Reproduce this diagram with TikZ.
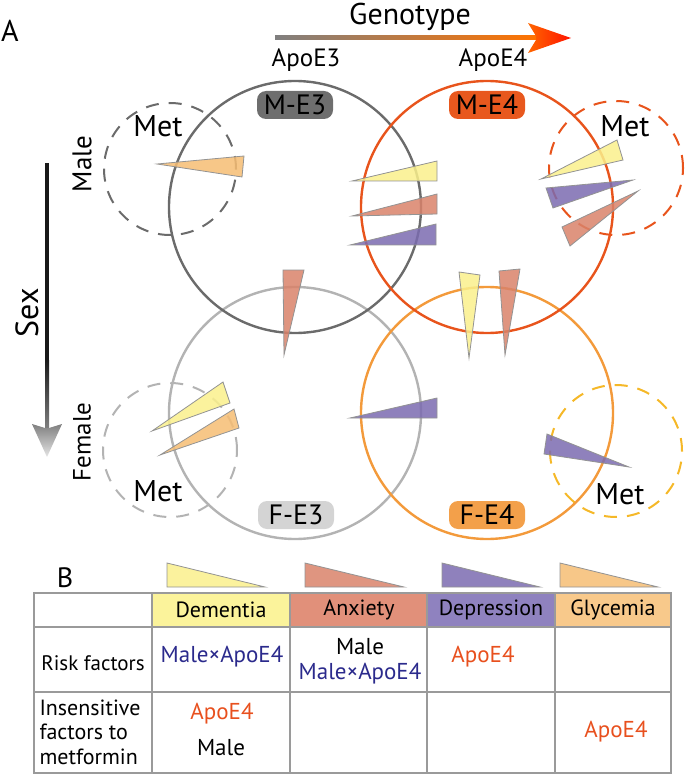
\documentclass[tikz,border=0pt]{standalone}
\usepackage{fontspec}
\setmainfont{PT Sans}
\usetikzlibrary{positioning}

\definecolor{cME3}{HTML}{6B6B6B}
\definecolor{cME4}{HTML}{E8541C}
\definecolor{cFE3}{HTML}{B3B3B3}
\definecolor{cFE4}{HTML}{F39A3B}
\definecolor{cMetF4}{HTML}{F5B828}
\definecolor{boxME3}{HTML}{6E6E6E}
\definecolor{boxME4}{HTML}{E8581E}
\definecolor{boxFE3}{HTML}{D4D4D4}
\definecolor{boxFE4}{HTML}{F3A04A}
\definecolor{wYel}{HTML}{FAF08C}
\definecolor{wSal}{HTML}{D9826A}
\definecolor{wPur}{HTML}{7B6BB0}
\definecolor{wOra}{HTML}{F6BD73}
\definecolor{hYel}{HTML}{FBF39B}
\definecolor{hSal}{HTML}{E1907A}
\definecolor{hPur}{HTML}{8F82BF}
\definecolor{hOra}{HTML}{F8C98B}
\definecolor{txtBlue}{HTML}{2B2A8C}
\definecolor{txtRed}{HTML}{E8501E}
\definecolor{grid}{HTML}{9A9A9A}

\begin{document}
\begin{tikzpicture}[x=1pt,y=-1pt,
    ring/.style={line width=2.4pt},
    metring/.style={line width=2pt, dash pattern=on 13pt off 10pt},
    wedge/.style={draw=gray!85, line width=0.8pt, fill opacity=0.85},
    tag/.style={rounded corners=9pt, minimum width=76pt, minimum height=28pt, inner sep=0pt, font=\fontsize{28}{30}\selectfont},
    big/.style={inner sep=0pt, font=\fontsize{30}{32}\selectfont},
    mid/.style={inner sep=0pt, font=\fontsize{25}{28}\selectfont},
    tab/.style={inner sep=0pt, font=\fontsize{22}{25}\selectfont},
    cell/.style={inner sep=0pt, font=\fontsize{23}{26}\selectfont}]
  \useasboundingbox (0,0) rectangle (685,775);

  % panel A
  \node[big] (panelA) at (10,31) {A};
  \shade[left color=gray, right color=orange!90!red] (275,36) rectangle (536,40);
  \shade[left color=orange!80!red, right color=red!85!orange]
     (536,36) -- (528,23) -- (571,38) -- (528,53) -- (536,40) -- cycle;
  \node[big] (genotype) at (410,17) {Genotype};
  \node[mid] (apoe3) at (306,60) {ApoE3};
  \node[mid] (apoe4) at (493,60) {ApoE4};

  \fill[black!90] (45,163) rectangle (49,360);
  \shade[top color=black!90, bottom color=black!50] (45,360) rectangle (49,429);
  \shade[top color=black!50, bottom color=black!10]
     (45,428) -- (32,424) -- (47,457) -- (62,424) -- (49,428) -- cycle;
  \node[big, font=\fontsize{32}{34}\selectfont, rotate=90] (sex) at (27,313) {Sex};
  \node[big, font=\fontsize{27}{30}\selectfont, rotate=90] (male) at (82,164) {Male};
  \node[big, font=\fontsize{25}{28}\selectfont, rotate=90] (female) at (82,442) {Female};

  \coordinate (ME3) at (295,207);
  \coordinate (ME4) at (487,207);
  \coordinate (FE3) at (295,413);
  \coordinate (FE4) at (487,413);
  \coordinate (metME3) at (170,169);
  \coordinate (metME4) at (616,168);
  \coordinate (metFE3) at (170,450);
  \coordinate (metFE4) at (616,451);

  \draw[ring, cFE3] (FE3) circle[radius=126pt];
  \draw[ring, cFE4] (FE4) circle[radius=126pt];
  \draw[ring, cME3] (ME3) circle[radius=126pt];
  \draw[ring, cME4] (ME4) circle[radius=126pt];

  \draw[metring, cME3] (metME3) circle[radius=66pt];
  \draw[metring, cME4] (metME4) circle[radius=67pt];
  \draw[metring, cFE3] (metFE3) circle[radius=67pt];
  \draw[metring, cMetF4] (metFE4) circle[radius=66pt];

  \node[big] (met1) at (158,126) {Met};
  \node[big] (met2) at (625,126) {Met};
  \node[big] (met3) at (158,491) {Met};
  \node[big] (met4) at (620,494) {Met};

  \node[tag, fill=boxME3] (tagME3) at (295,105) {M-E3};
  \node[tag, fill=boxME4] (tagME4) at (487,105) {M-E4};
  \node[tag, fill=boxFE3] (tagFE3) at (296,515) {F-E3};
  \node[tag, fill=boxFE4] (tagFE4) at (487,515) {F-E4};

  % wedges
  \filldraw[wedge, fill=wOra] (157,164) -- (244,156) -- (242,177) -- cycle;
  \filldraw[wedge, fill=wYel] (352,181) -- (437,161) -- (437,181) -- cycle;
  \filldraw[wedge, fill=wSal] (352,216) -- (437,194) -- (437,214) -- cycle;
  \filldraw[wedge, fill=wPur] (350,245) -- (436,224) -- (436,245) -- cycle;
  \filldraw[wedge, fill=wSal] (284,355) -- (283,270) -- (304,270) -- cycle;

  \filldraw[wedge, fill=wYel] (541,179) -- (617,140) -- (623,160) -- cycle;
  \filldraw[wedge, fill=wPur] (633,180) -- (546,188) -- (553,208) -- cycle;
  \filldraw[wedge, fill=wSal] (638,191) -- (562,227) -- (570,246) -- cycle;
  \filldraw[wedge, fill=wYel] (469,358) -- (459,272) -- (480,275) -- cycle;
  \filldraw[wedge, fill=wSal] (505,355) -- (499,271) -- (520,269) -- cycle;

  \filldraw[wedge, fill=wYel] (152,431) -- (223,382) -- (230,403) -- cycle;
  \filldraw[wedge, fill=wOra] (160,455) -- (234,409) -- (239,428) -- cycle;
  \filldraw[wedge, fill=wPur] (350,418) -- (437,398) -- (437,418) -- cycle;
  \filldraw[wedge, fill=wPur] (629,467) -- (547,434) -- (544,454) -- cycle;

  % panel B
  \node[big, font=\fontsize{28}{30}\selectfont] (panelB) at (65,578) {B};
  \filldraw[wedge, fill=wYel] (167,563) -- (167,587) -- (265,587) -- cycle;
  \filldraw[wedge, fill=wSal] (305,563) -- (305,587) -- (404,587) -- cycle;
  \filldraw[wedge, fill=wPur] (442,563) -- (442,587) -- (540,587) -- cycle;
  \filldraw[wedge, fill=wOra] (560,563) -- (560,587) -- (658,587) -- cycle;

  \fill[hYel] (152,593) rectangle (290,627);
  \fill[hSal] (290,593) rectangle (427,627);
  \fill[hPur] (427,593) rectangle (555,627);
  \fill[hOra] (555,593) rectangle (671,627);
  \draw[grid, line width=1.5pt] (34,593) rectangle (671,773);
  \foreach \xx in {152,290,427,555} \draw[grid, line width=1.5pt] (\xx,593) -- (\xx,773);
  \foreach \yy in {627,692} \draw[grid, line width=1.5pt] (34,\yy) -- (671,\yy);

  \node[tab] (hDem) at (221,610) {Dementia};
  \node[tab] (hAnx) at (359,610) {Anxiety};
  \node[tab] (hDep) at (491,610) {Depression};
  \node[tab] (hGly) at (613,610) {Glycemia};

  \node[tab, font=\fontsize{21}{24}\selectfont] (risk) at (93,663) {Risk factors};
  \node[cell, txtBlue] (riskDem) at (222,657) {Male×ApoE4};
  \node[cell] (riskAnx1) at (360,647) {Male};
  \node[cell, txtBlue] (riskAnx2) at (360,674) {Male×ApoE4};
  \node[cell, txtRed] (riskDep) at (483,657) {ApoE4};

  \node[tab, align=left, font=\fontsize{22}{24.5}\selectfont] (insens) at (90,732) {Insensitive\\factors to\\metformin};
  \node[cell, txtRed] (insDem1) at (222,714) {ApoE4};
  \node[cell] (insDem2) at (221,748) {Male};
  \node[cell, txtRed] (insGly) at (616,732) {ApoE4};
\end{tikzpicture}
\end{document}
